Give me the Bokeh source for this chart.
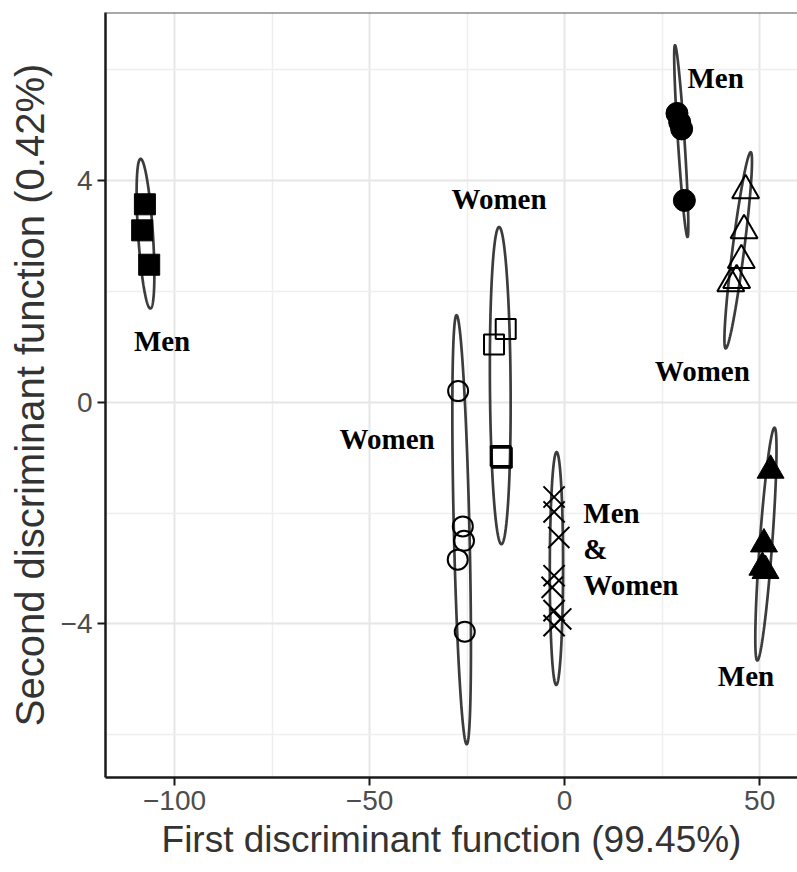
import numpy as np
from bokeh.plotting import figure
from bokeh.models import ColumnDataSource, FixedTicker, Range1d, Span
from bokeh.core.properties import value
from bokeh.embed import file_html
from bokeh.resources import INLINE

# ---------------- data ----------------
X_TICKS = [-100, -50, 0, 50]
X_TICK_LABELS = ["−100", "−50", "0", "50"]
X_MINOR = [-75, -25, 25]
Y_TICKS = [-4, 0, 4]
Y_TICK_LABELS = ["−4", "0", "4"]
Y_MINOR = [-6, -2, 2, 6]
X_LIMITS = [-117.7, 59.7]
Y_LIMITS = [-6.77, 7.03]

X_TITLE = "First discriminant function (99.45%)"
Y_TITLE = "Second discriminant function (0.42%)"

# group 1: filled squares (Men)
g1_x = [-107.6, -108.3, -106.5]
g1_y = [3.57, 3.10, 2.48]
# group 2: open squares (Women)
g2_x = [-15.1, -18.1, -16.4, -16.1]
g2_y = [1.32, 1.04, -0.97, -1.00]
# group 3: open circles (Women)
g3_x = [-27.3, -26.1, -25.8, -27.4, -25.6]
g3_y = [0.20, -2.24, -2.50, -2.84, -4.14]
# group 4: crosses (Men & Women)
g4_x = [-2.7, -2.7, -1.5, -2.7, -3.2, -2.7, -1.0, -2.7]
g4_y = [-1.71, -1.98, -2.44, -3.13, -3.34, -3.76, -3.91, -4.03]
# group 5: filled circles (Men)
g5_x = [28.8, 29.5, 30.0, 30.7]
g5_y = [5.21, 5.05, 4.93, 3.64]
# group 6: open triangles (Women)
g6_x = [46.4, 46.0, 45.3, 44.1, 42.6]
g6_y = [3.82, 3.10, 2.56, 2.20, 2.14]
# group 7: filled triangles (Men)
g7_x = [52.8, 51.1, 50.7, 51.5]
g7_y = [-1.23, -2.56, -2.98, -3.04]

# ellipse parameters per group: centre x, centre y, half-width, half-height, shear
ell_cx = [-107.45, -16.5, -26.4, -2.1, 29.9, 44.5, 51.6]
ell_cy = [3.04, 0.30, -2.30, -3.0, 4.71, 2.74, -2.56]
ell_rx = [1.9, 2.65, 2.0, 1.7, 0.85, 1.5, 1.6]
ell_ry = [1.35, 2.86, 3.87, 2.1, 1.73, 1.77, 2.1]
ell_sx = [-1.25, -0.3, -1.3, 0.05, -1.6, 3.2, 2.2]

# labels
lab_text = ["Men", "Women", "Women", "Men", "Women", "Men"]
lab_x = [-103.2, -16.8, -45.5, 38.7, 35.3, 46.5]
lab_y = [1.11, 3.67, -0.66, 5.84, 0.57, -4.93]
lab2_text = ["Men\n&\nWomen"]
lab2_x = [4.8]
lab2_y = [-2.65]

# ---------------- figure ----------------
p = figure(width=797, height=872, output_backend="svg", toolbar_location=None,
           x_range=Range1d(*X_LIMITS), y_range=Range1d(*Y_LIMITS))
p.min_border_left = 105
p.min_border_right = 0
p.min_border_top = 12
p.min_border_bottom = 95
p.outline_line_color = None
p.background_fill_color = "white"
p.border_fill_color = "white"

for ax, ticks, minor, labels in ((p.xaxis, X_TICKS, X_MINOR, X_TICK_LABELS),
                                 (p.yaxis, Y_TICKS, Y_MINOR, Y_TICK_LABELS)):
    ax.ticker = FixedTicker(ticks=ticks, minor_ticks=minor)
    ax.major_label_overrides = {float(t): l for t, l in zip(ticks, labels)}
    ax.axis_line_color = "#1a1a1a"
    ax.axis_line_width = 2.5
    ax.major_tick_line_color = "#1a1a1a"
    ax.major_tick_line_width = 2
    ax.major_tick_out = 8
    ax.major_tick_in = 0
    ax.minor_tick_line_color = None
    ax.major_label_text_font = "Liberation Sans"
    ax.major_label_text_font_size = "28px"
    ax.major_label_text_color = "#4d4d4d"
    ax.major_label_standoff = 5
    ax.axis_label_text_font = "Liberation Sans"
    ax.axis_label_text_font_style = "normal"
    ax.axis_label_text_color = "#333333"
    ax.axis_label_standoff = 6

p.xaxis.axis_label = X_TITLE
p.yaxis.axis_label = Y_TITLE
p.xaxis.axis_label_text_font_size = "37px"
p.yaxis.axis_label_text_font_size = "40px"

for g in (p.xgrid, p.ygrid):
    g.grid_line_color = "#e6e6e6"
    g.grid_line_width = 2
    g.minor_grid_line_color = "#efefef"
    g.minor_grid_line_width = 1.5

p.add_layout(Span(location=Y_LIMITS[1], dimension="width", line_color="#555555", line_width=2))

# ellipses
t = np.linspace(0, 2 * np.pi, 240)
exs, eys = [], []
for cx, cy, rx, ry, sx in zip(ell_cx, ell_cy, ell_rx, ell_ry, ell_sx):
    exs.append(list(cx + rx * np.cos(t) + sx * np.sin(t)))
    eys.append(list(cy + ry * np.sin(t)))
p.multi_line(xs=exs, ys=eys, line_color="#3c3c3c", line_width=2.7)

# points
p.scatter(g1_x, g1_y, marker="square", size=21, fill_color="black", line_color="black")
p.scatter(g2_x, g2_y, marker="square", size=20, fill_color=None, line_color="black", line_width=2)
p.scatter(g3_x, g3_y, marker="circle", size=20, fill_color=None, line_color="black", line_width=2)
p.scatter(g4_x, g4_y, marker="x", size=30, line_color="black", line_width=2)
p.scatter(g5_x, g5_y, marker="circle", size=22, fill_color="black", line_color="black")
p.scatter(g6_x, g6_y, marker="triangle", size=27, fill_color=None, line_color="black", line_width=2)
p.scatter(g7_x, g7_y, marker="triangle", size=27, fill_color="black", line_color="black")

# labels
src = ColumnDataSource(dict(x=lab_x, y=lab_y, text=lab_text))
p.text(x="x", y="y", text="text", source=src, text_font=value("Liberation Serif"),
       text_font_style="bold", text_font_size="29px", text_align="center",
       text_baseline="middle", text_color="black")
src2 = ColumnDataSource(dict(x=lab2_x, y=lab2_y, text=lab2_text))
p.text(x="x", y="y", text="text", source=src2, text_font=value("Liberation Serif"),
       text_font_style="bold", text_font_size="29px", text_align="left",
       text_baseline="middle", text_color="black", text_line_height=1.12)

open("out.html", "w").write(file_html(p, INLINE))
